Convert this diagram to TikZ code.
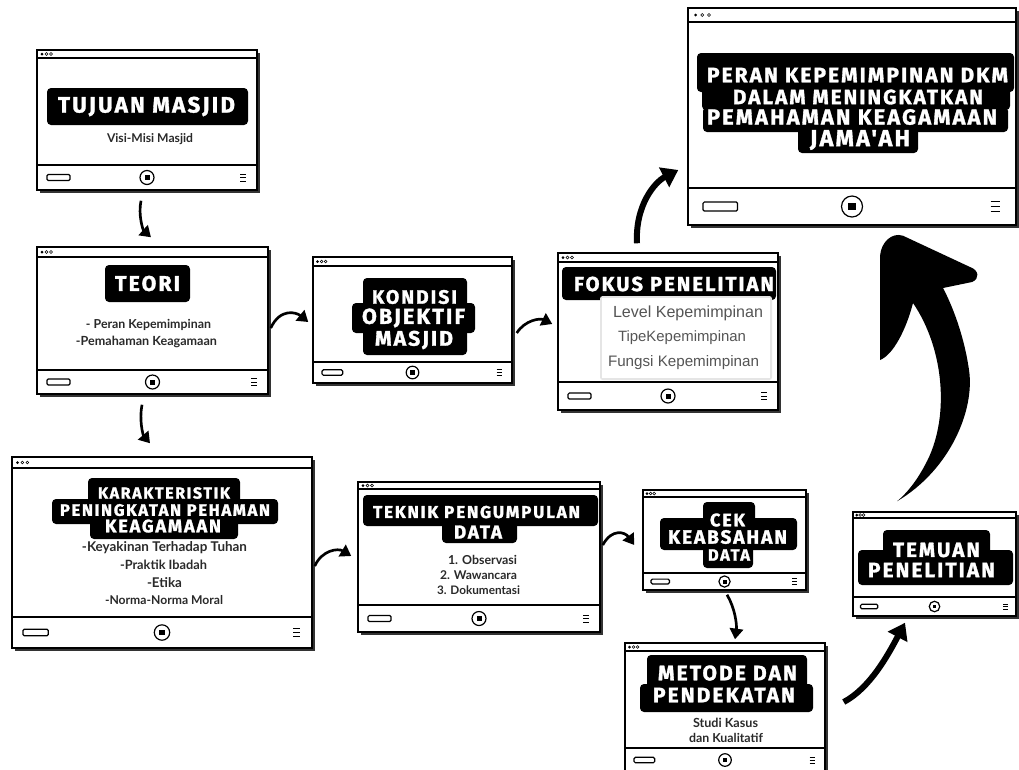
\documentclass[tikz,border=0pt]{standalone}
\usepackage{fontspec}
\usepackage{graphicx}
\usetikzlibrary{arrows.meta}
\newfontfamily\titlefont[LetterSpace=10, BoldFeatures={FakeBold=1.5}]{Fira Sans}
\newfontfamily\bodyfont{Lato}
\newfontfamily\listfont{Liberation Sans}
\definecolor{shadowc}{HTML}{333333}
\definecolor{listgray}{HTML}{555555}
\definecolor{bodyc}{HTML}{2A2A2A}
\newlength\pxu \setlength\pxu{0.75pt}
\newcommand\ttl[2]{\resizebox{#1\pxu}{!}{\titlefont\bfseries #2}}
\newcommand\btx[2]{\resizebox{#1\pxu}{!}{\bodyfont\bfseries #2}}
\newcommand\ltx[2]{\resizebox{#1\pxu}{!}{\listfont #2}}
\newcommand\win[8]{%
  \pgfmathsetmacro\wcx{(#2+#4)/2}%
  \pgfmathsetmacro\wcy{(#3+#5)/2}%
  \pgfmathsetmacro\ww{#4-#2}%
  \pgfmathsetmacro\wh{#5-#3}%
  \pgfmathsetmacro\fy{(#7+#5)/2}%
  \pgfmathsetmacro\dy{(#3+#6)/2}%
  \fill[shadowc] ({#2+3},{#3+3}) rectangle ({#4+3},{#5+3});
  \node[winbox, minimum width=\ww\pxu, minimum height=\wh\pxu] (#1) at (\wcx,\wcy) {};
  \draw[wline] (#2,#6) -- (#4,#6);
  \draw[wline] (#2,#7) -- (#4,#7);
  \fill ({#2+5*#8},\dy) circle[radius=1.5];
  \draw[line width=0.4pt] ({#2+9.5*#8},\dy) circle[radius=1.4];
  \draw[line width=0.4pt] ({#2+14*#8},\dy) circle[radius=1.4];
  \draw[wline, rounded corners=1pt] ({#2+10*#8},{\fy-3*#8}) rectangle ({#2+33*#8},{\fy+3*#8});
  \draw[wline] (\wcx,\fy) circle[radius={7*#8}];
  \fill ({\wcx-2.5*#8},{\fy-2.5*#8}) rectangle ({\wcx+2.5*#8},{\fy+2.5*#8});
  \foreach \k in {-1,0,1} {\draw[line width=0.5pt] ({#4-17*#8},{\fy+\k*3.5*#8}) -- ({#4-11*#8},{\fy+\k*3.5*#8});}
}
\begin{document}
\begin{tikzpicture}[x=0.75pt,y=-0.75pt,
  winbox/.style={draw=black, fill=white, line width=1.1pt, inner sep=0pt},
  wline/.style={line width=0.9pt},
  tierfill/.style={fill=black, rounded corners=3pt},
  ttxt/.style={inner sep=0pt, text=white},
  btxt/.style={inner sep=0pt, text=bodyc},
  ltxt/.style={inner sep=0pt, text=listgray},
  connarrow/.style={line width=2pt, -{Triangle[length=8pt,width=10pt]}},
  bigarrow/.style={line width=4.5pt, -{Triangle[length=12pt,width=16pt]}}]
\fill[white] (0,0) rectangle (1019,769);
\useasboundingbox (0,0) rectangle (1019,769);

% windows
\win{tujuan}{37}{50}{257}{190}{58}{165}{1}
\win{teori}{37}{247}{268}{394}{257}{370}{1}
\win{kondisi}{313}{257}{512}{383}{266}{362}{0.9}
\win{fokus}{558}{253}{778}{410}{262}{382}{1}
\win{peran}{688}{8}{1016}{225}{22}{188}{1.5}
\win{karak}{12}{457}{312}{648}{468}{617}{1.1}
\win{teknik}{358}{482}{600}{632}{489}{605}{1}
\win{cek}{643}{490}{806}{590}{497}{573}{0.8}
\win{metode}{625}{643}{825}{772}{651}{748}{0.9}
\win{temuan}{853}{512}{1016}{616}{518}{597}{0.75}

% black title tiers
\fill[tierfill] (47,88) rectangle (248,125);
\fill[tierfill] (105,265) rectangle (190,302);
\fill[tierfill] (363,278) rectangle (467,355);
\fill[tierfill] (352,303) rectangle (475,333);
\fill[tierfill] (562,267) rectangle (776,300);
\fill[tierfill] (697,53) rectangle (1014,92);
\fill[tierfill] (702,88) rectangle (1010,110);
\fill[tierfill] (703,107) rectangle (1008,132);
\fill[tierfill] (798,128) rectangle (918,153);
\fill[tierfill] (88,478) rectangle (240,503);
\fill[tierfill] (52,499) rectangle (278,524);
\fill[tierfill] (90,520) rectangle (238,539);
\fill[tierfill] (363,495) rectangle (598,526);
\fill[tierfill] (442,522) rectangle (517,543);
\fill[tierfill] (703,502) rectangle (755,530);
\fill[tierfill] (660,518) rectangle (797,550);
\fill[tierfill] (703,545) rectangle (753,568);
\fill[tierfill] (647,655) rectangle (807,690);
\fill[tierfill] (640,684) rectangle (813,712);
\fill[tierfill] (883,530) rectangle (990,555);
\fill[tierfill] (858,550) rectangle (1013,585);

% fokus list panel
\fill[black!10, rounded corners=2pt] (600,296) rectangle (772,380);
\fill[white] (602,298) rectangle (770,378);

% title texts
\node[ttxt] (t1) at (146.5,106.5) {\ttl{177}{TUJUAN MASJID}};
\node[ttxt] (t2) at (147.5,283.5) {\ttl{65}{TEORI}};
\node[ttxt] (t3a) at (414.5,297) {\ttl{85}{KONDISI}};
\node[ttxt] (t3b) at (413.5,318) {\ttl{103}{OBJEKTIF}};
\node[ttxt] (t3c) at (414,340) {\ttl{78}{MASJID}};
\node[ttxt] (t4) at (674,284) {\ttl{200}{FOKUS PENELITIAN}};
\node[ttxt] (t5a) at (857.5,75) {\ttl{301}{PERAN KEPEMIMPINAN DKM}};
\node[ttxt] (t5b) at (858,97) {\ttl{250}{DALAM MENINGKATKAN}};
\node[ttxt] (t5c) at (852,117) {\ttl{290}{PEMAHAMAN KEAGAMAAN}};
\node[ttxt] (t5d) at (860,140) {\ttl{100}{JAMA'AH}};
\node[ttxt] (t6a) at (164,493) {\ttl{132}{KARAKTERISTIK}};
\node[ttxt] (t6b) at (165,510) {\ttl{210}{PENINGKATAN PEHAMAN}};
\node[ttxt] (t6c) at (163,526) {\ttl{116}{KEAGAMAAN}};
\node[ttxt] (t7a) at (476.5,512) {\ttl{207}{TEKNIK PENGUMPULAN}};
\node[ttxt] (t7b) at (478,532) {\ttl{48}{DATA}};
\node[ttxt] (t8a) at (727.5,520) {\ttl{35}{CEK}};
\node[ttxt] (t8b) at (727.5,537) {\ttl{119}{KEABSAHAN}};
\node[ttxt] (t8c) at (729,555) {\ttl{42}{DATA}};
\node[ttxt] (t9a) at (727.5,673) {\ttl{139}{METODE DAN}};
\node[ttxt] (t9b) at (724,695) {\ttl{142}{PENDEKATAN}};
\node[ttxt] (t10a) at (936.5,550) {\ttl{87}{TEMUAN}};
\node[ttxt] (t10b) at (931.5,570) {\ttl{127}{PENELITIAN}};

% body texts
\node[btxt] (b1) at (150,139) {\btx{86}{Visi-Misi Masjid}};
\node[btxt] (b2a) at (148.5,325) {\btx{125}{- Peran Kepemimpinan}};
\node[btxt] (b2b) at (146.5,342) {\btx{141}{-Pemahaman Keagamaan}};
\node[ltxt] (l1) at (688,313) {\ltx{150}{Level Kepemimpinan}};
\node[ltxt] (l2) at (682,338) {\ltx{128}{TipeKepemimpinan}};
\node[ltxt] (l3) at (683.5,363) {\ltx{151}{Fungsi Kepemimpinan}};
\node[btxt] (b6a) at (164.5,548) {\btx{165}{-Keyakinan Terhadap Tuhan}};
\node[btxt] (b6b) at (163.5,565) {\btx{87}{-Praktik Ibadah}};
\node[btxt] (b6c) at (164.5,583) {\btx{35}{-Etika}};
\node[btxt] (b6d) at (164,600) {\btx{118}{-Norma-Norma Moral}};
\node[btxt] (b7a) at (482.5,560) {\btx{69}{1. Observasi}};
\node[btxt] (b7b) at (478.5,575) {\btx{77}{2. Wawancara}};
\node[btxt] (b7c) at (478.5,590) {\btx{83}{3. Dokumentasi}};
\node[btxt] (b9a) at (725.5,723) {\btx{65}{Studi Kasus}};
\node[btxt] (b9b) at (726,738) {\btx{74}{dan Kualitatif}};

% connectors
\draw[connarrow] ([shift={(-6,10)}]tujuan.south) .. controls (138,215) and (143,230) .. ([shift={(-1.5,-9)}]teori.north);
\draw[connarrow] ([shift={(-10.5,10)}]teori.south) .. controls (139,420) and (143,435) .. ([shift={(-12,-13)}]karak.north);
\draw[connarrow] ([shift={(2,7.5)}]teori.east) .. controls (280,308) and (296,312) .. ([shift={(-4,2)}]kondisi.west);
\draw[connarrow] ([shift={(4,13)}]kondisi.east) .. controls (525,320) and (540,318) .. ([shift={(-5,-7.5)}]fokus.west);
\draw[bigarrow] ([shift={(-31,-9)}]fokus.north) .. controls (635,205) and (655,182) .. ([shift={(-9,53.5)}]peran.west);
\draw[connarrow] ([shift={(2,13.5)}]karak.east) .. controls (322,550) and (338,548) .. ([shift={(-6,-1)}]teknik.west);
\draw[connarrow] ([shift={(2,-12)}]teknik.east) .. controls (612,528) and (625,532) .. ([shift={(-8,5)}]cek.west);
\draw[connarrow] ([shift={(2.5,4)}]cek.south) .. controls (735,608) and (737,625) .. ([shift={(10,-3)}]metode.north);
\draw[bigarrow] ([shift={(18,-5.5)}]metode.east) .. controls (870,688) and (888,655) .. ([shift={(-29.5,6)}]temuan.south);

% big arrow temuan -> peran
\coordinate (bigtail) at ([shift={(-37.5,-10)}]temuan.north);
\coordinate (bigtip) at ([shift={(51,10)}]peran.south);
\fill[black] (bigtail) .. controls (950,470) and (975,410) .. (969,370)
  .. controls (964,335) and (952,305) .. (943,288)
  -- (972,282) .. controls (980,279) and (979,270) .. (970,267)
  -- (bigtip) .. controls (892,232) and (881,242) .. (880,256)
  -- (880,360) .. controls (893,355) and (906,330) .. (913,303)
  .. controls (945,350) and (950,420) .. (925,465)
  .. controls (916,482) and (906,494) .. (bigtail) -- cycle;
\end{tikzpicture}
\end{document}
